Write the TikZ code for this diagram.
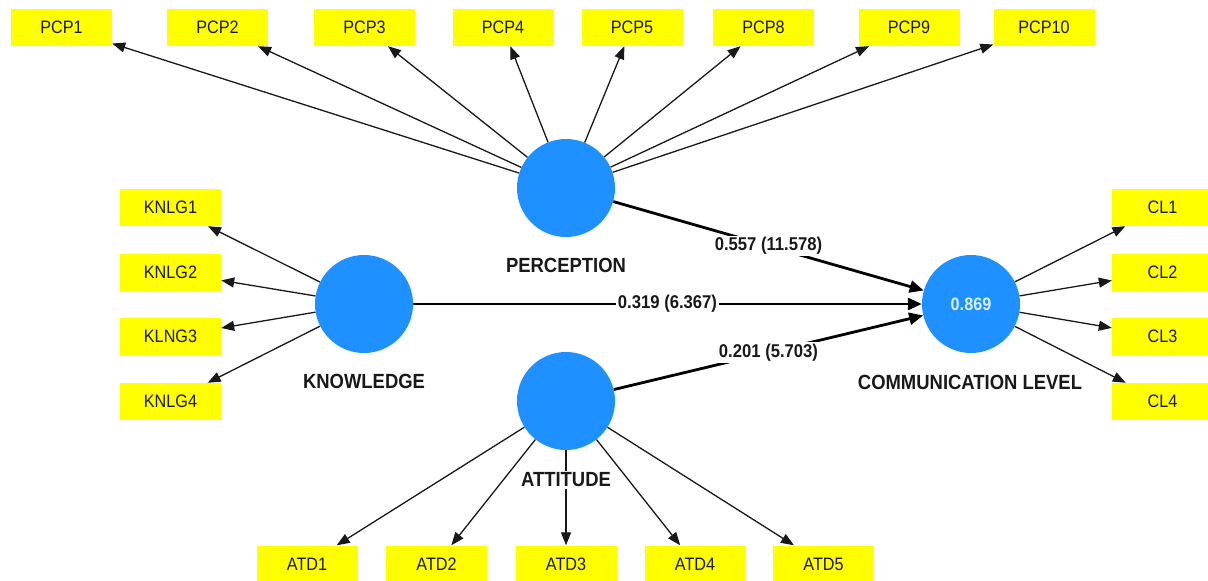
\documentclass[tikz,border=0pt]{standalone}
\usepackage{fontspec}
\setmainfont{Liberation Sans}[FakeStretch=0.9]
\usetikzlibrary{arrows.meta}
\definecolor{lvblue}{RGB}{30,144,255}
\definecolor{indyellow}{RGB}{255,255,0}
\definecolor{inkdark}{RGB}{25,25,25}
\definecolor{rsq}{RGB}{215,238,255}
\begin{document}
\begin{tikzpicture}[x=1pt,y=-1pt,
  ind/.style={rectangle, fill=indyellow, minimum width=101pt, minimum height=37pt, inner sep=0pt, text=inkdark, font=\fontsize{18}{20}\selectfont},
  lv/.style={circle, fill=lvblue, minimum size=98pt, inner sep=0pt},
  lvlabel/.style={fill=white, inner sep=2pt, text=inkdark, font=\bfseries\fontsize{20.5}{22}\selectfont},
  meas/.style={draw=inkdark, line width=1.3pt, -{Triangle[length=13pt,width=10pt]}},
  struct/.style={draw=black, line width=2.8pt, -{Triangle[length=14pt,width=12pt]}},
  coef/.style={fill=white, inner sep=1.5pt, text=inkdark, font=\bfseries\fontsize{18.5}{20}\selectfont}]
\useasboundingbox (0,0) rectangle (1208,581);

% latent variables
\node[lv] (perc) at (566,188) {};
\node[lv] (know) at (364,304) {};
\node[lv] (att)  at (566,401) {};
\node[lv, text=rsq, font=\bfseries\fontsize{18}{20}\selectfont] (cl) at (971,304) {0.869};

% indicators
\node[ind] (pcp1)  at (61.5,27.5)  {PCP1};
\node[ind] (pcp2)  at (217.5,27.5) {PCP2};
\node[ind] (pcp3)  at (364.5,27.5) {PCP3};
\node[ind] (pcp4)  at (503,27.5)   {PCP4};
\node[ind] (pcp5)  at (632,27.5)   {PCP5};
\node[ind] (pcp8)  at (763.5,27.5) {PCP8};
\node[ind] (pcp9)  at (909,27.5)   {PCP9};
\node[ind] (pcp10) at (1044,27.5)  {PCP10};

\node[ind] (k1) at (170.5,207.5) {KNLG1};
\node[ind] (k2) at (170.5,272)   {KNLG2};
\node[ind] (k3) at (170.5,336.5) {KLNG3};
\node[ind] (k4) at (170.5,401.5) {KNLG4};

\node[ind] (c1) at (1162.5,207.5) {CL1};
\node[ind] (c2) at (1162.5,272)   {CL2};
\node[ind] (c3) at (1162.5,336.5) {CL3};
\node[ind] (c4) at (1162.5,401.5) {CL4};

\node[ind] (a1) at (307,564)   {ATD1};
\node[ind] (a2) at (436.5,564) {ATD2};
\node[ind] (a3) at (566,564)   {ATD3};
\node[ind] (a4) at (695,564)   {ATD4};
\node[ind] (a5) at (823.5,564) {ATD5};

% measurement arrows
\foreach \t in {pcp1,pcp2,pcp3,pcp4,pcp5,pcp8,pcp9,pcp10} \draw[meas] (perc) -- (\t);
\foreach \t in {k1,k2,k3,k4} \draw[meas] (know) -- (\t);
\foreach \t in {c1,c2,c3,c4} \draw[meas] (cl) -- (\t);
\foreach \t in {a1,a2,a3,a4,a5} \draw[meas] (att) -- (\t);

% structural paths
\draw[struct] (perc) -- node[coef] {0.557 (11.578)} (cl);
\draw[struct] (know) -- node[coef] {0.319 (6.367)} (cl);
\draw[struct] (att)  -- node[coef] {0.201 (5.703)} (cl);

% construct labels
\node[lvlabel] (lperc) at (566,265) {PERCEPTION};
\node[lvlabel] (lknow) at (364,381) {KNOWLEDGE};
\node[lvlabel] (latt)  at (566,480) {ATTITUDE};
\node[lvlabel] (lcl)   at (970,382) {COMMUNICATION LEVEL};
\end{tikzpicture}
\end{document}
